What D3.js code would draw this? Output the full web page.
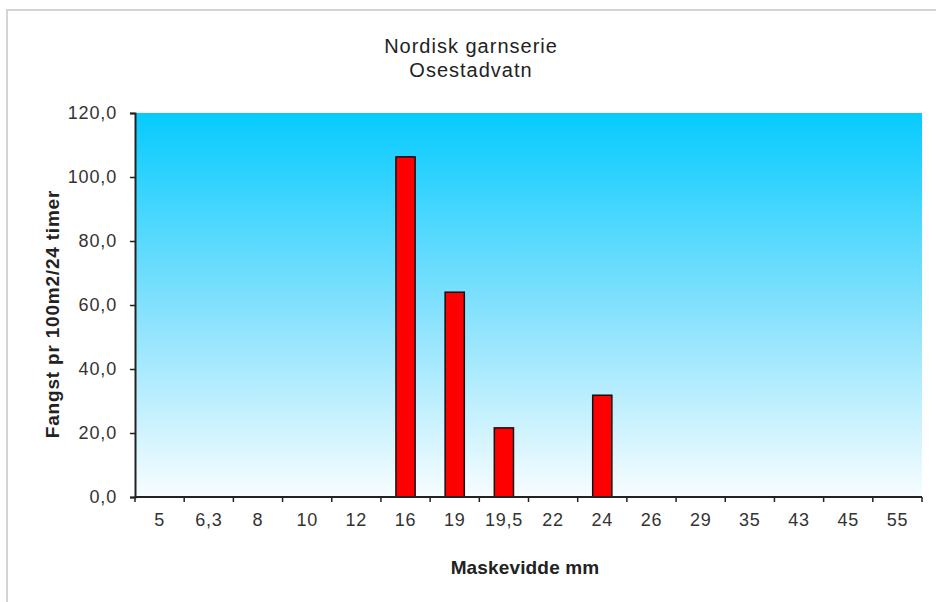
<!DOCTYPE html>
<html>
<head>
<meta charset="utf-8">
<script src="https://cdn.jsdelivr.net/npm/d3@7"></script>
<style>
  html, body { margin: 0; padding: 0; background: #fff; }
  svg { display: block; font-family: "Liberation Sans", Arial, sans-serif; }
</style>
</head>
<body>
<svg id="chart" width="936" height="602"></svg>
<script>
// Mesh sizes (mm) and catch per 100 m2 net per 24 h
const categories = ["5", "6,3", "8", "10", "12", "16", "19", "19,5", "22", "24", "26", "29", "35", "43", "45", "55"];
const values = [0, 0, 0, 0, 0, 106.3, 64.0, 21.6, 0, 31.8, 0, 0, 0, 0, 0, 0];
const yTicks = [0, 20, 40, 60, 80, 100, 120];
const titleLines = ["Nordisk garnserie", "Osestadvatn"];
const xTitle = "Maskevidde mm";
const yTitle = "Fangst pr 100m2/24 timer";

const svg = d3.select("#chart");
const W = 936, H = 602;
const plot = { left: 135, right: 922, top: 113, bottom: 497 };

// outer chart frame
svg.append("rect")
  .attr("x", 7).attr("y", 10)
  .attr("width", W + 10).attr("height", H + 10)
  .attr("fill", "#fff")
  .attr("stroke", "#d4d4d4").attr("stroke-width", 2);

// plot area background gradient
const defs = svg.append("defs");
const grad = defs.append("linearGradient")
  .attr("id", "bg").attr("x1", 0).attr("y1", 0).attr("x2", 0).attr("y2", 1);
grad.append("stop").attr("offset", "0%").attr("stop-color", "#06cbfe");
grad.append("stop").attr("offset", "55%").attr("stop-color", "#8ee3fd");
grad.append("stop").attr("offset", "100%").attr("stop-color", "#f8fdff");

svg.append("rect")
  .attr("x", plot.left).attr("y", plot.top)
  .attr("width", plot.right - plot.left).attr("height", plot.bottom - plot.top)
  .attr("fill", "url(#bg)");

const x = d3.scaleBand().domain(categories).range([plot.left, plot.right]).paddingInner(0).paddingOuter(0);
const y = d3.scaleLinear().domain([0, 120]).range([plot.bottom, plot.top]);

// bars
const barW = x.bandwidth() * 0.39;
svg.append("g").selectAll("rect")
  .data(categories.map((c, i) => ({ c, v: values[i] })).filter(d => d.v > 0))
  .join("rect")
  .attr("x", d => x(d.c) + x.bandwidth() / 2 - barW / 2)
  .attr("y", d => y(d.v))
  .attr("width", barW)
  .attr("height", d => y(0) - y(d.v))
  .attr("fill", "#ff0000")
  .attr("stroke", "#111").attr("stroke-width", 1.5);

// y axis
const yAxis = svg.append("g")
  .attr("transform", `translate(${plot.left},0)`)
  .call(d3.axisLeft(y).tickValues(yTicks).tickSize(5).tickPadding(13)
    .tickFormat(d => d3.format(".1f")(d).replace(".", ",")));
yAxis.select(".domain").attr("stroke", "#222").attr("stroke-width", 2);
yAxis.selectAll(".tick line").attr("stroke", "#222").attr("stroke-width", 1.5);
yAxis.selectAll(".tick text").attr("fill", "#333")
  .style("font-size", "18px").style("letter-spacing", "0.85px");

// x axis with ticks on category boundaries
const xAxis = svg.append("g")
  .attr("transform", `translate(0,${plot.bottom})`)
  .call(d3.axisBottom(x).tickSize(0).tickPadding(16));
xAxis.select(".domain").attr("d", `M${plot.left},0H${plot.right}`)
  .attr("stroke", "#222").attr("stroke-width", 2);
xAxis.selectAll(".tick text").attr("fill", "#333")
  .style("font-size", "18px").style("letter-spacing", "0.75px");
const edges = categories.map(c => x(c)).concat([x(categories[categories.length - 1]) + x.bandwidth()]);
xAxis.selectAll("line.edge")
  .data(edges)
  .join("line").attr("class", "edge")
  .attr("x1", d => d).attr("x2", d => d)
  .attr("y1", 0).attr("y2", 5)
  .attr("stroke", "#222").attr("stroke-width", 1.5);

// titles
svg.append("g").selectAll("text")
  .data(titleLines)
  .join("text")
  .attr("x", 471).attr("y", (d, i) => 53 + i * 24)
  .attr("text-anchor", "middle")
  .attr("fill", "#222")
  .style("font-size", "20px").style("letter-spacing", "1px")
  .text(d => d);

svg.append("text")
  .attr("x", 525).attr("y", 574)
  .attr("text-anchor", "middle")
  .attr("fill", "#222")
  .style("font-size", "19px").style("font-weight", "bold").style("letter-spacing", "0.15px")
  .text(xTitle);

svg.append("text")
  .attr("transform", `translate(59,314) rotate(-90)`)
  .attr("text-anchor", "middle")
  .attr("fill", "#222")
  .style("font-size", "19px").style("font-weight", "bold").style("letter-spacing", "0.8px")
  .text(yTitle);
</script>
</body>
</html>
